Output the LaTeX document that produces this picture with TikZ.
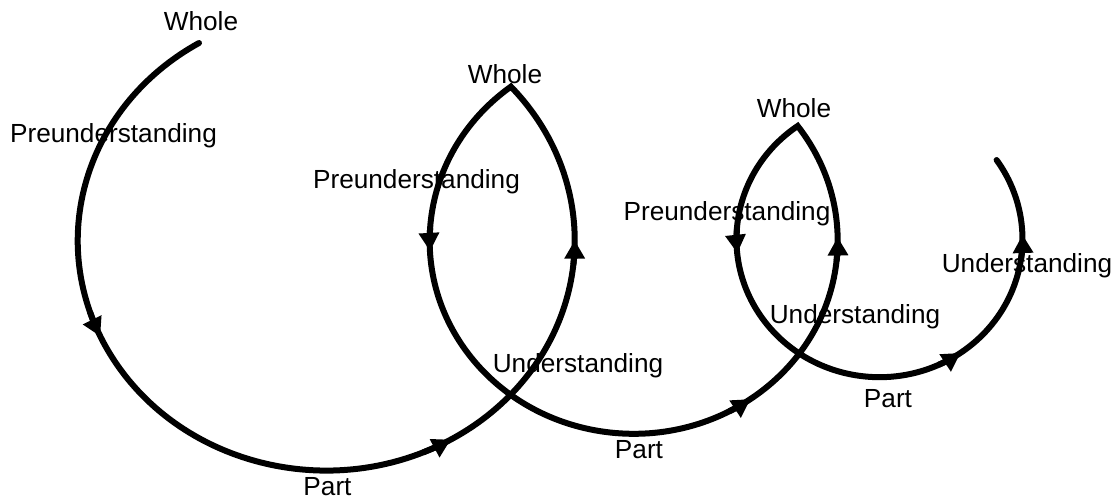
\documentclass[tikz,border=0pt]{standalone}
\usepackage{fontspec}
\setmainfont{Liberation Sans}
\usetikzlibrary{arrows.meta}
\begin{document}
\begin{tikzpicture}[x=1pt,y=-1pt,
  lbl/.style={font=\fontsize{26.2}{31}\selectfont, anchor=base, inner sep=0pt},
  spiral/.style={line width=6pt, line cap=round, line join=miter},
  tipseg/.style={line width=6pt, -{Triangle[length=18pt,width=21pt,line width=0pt]}}]
\useasboundingbox (0,0) rectangle (1120,501);
% centres of the three loops
\coordinate (c1) at (326.2,240.6);
\coordinate (c2) at (633.7,240.8);
\coordinate (c3) at (879.6,239.1);
\coordinate (s) at (199,43);
% labels
\node[lbl] (whole1) at (201,30) {Whole};
\node[lbl] (pre1) at (113.5,142) {Preunderstanding};
\node[lbl] (part1) at (327.5,495) {Part};
\node[lbl] (und1) at (578,372) {Understanding};
\node[lbl] (whole2) at (505,83) {Whole};
\node[lbl] (pre2) at (416.5,188) {Preunderstanding};
\node[lbl] (part2) at (639,458) {Part};
\node[lbl] (und2) at (855,323) {Understanding};
\node[lbl] (whole3) at (794,117) {Whole};
\node[lbl] (pre3) at (727,220) {Preunderstanding};
\node[lbl] (part3) at (888,407) {Part};
\node[lbl] (und3) at (1027,272) {Understanding};
% the spiral
\draw[spiral] (s)
  arc[start angle=239.2, end angle=-42, x radius=248.5, y radius=230]
  arc[start angle=233, end angle=-36.5, x radius=204, y radius=193]
  arc[start angle=235.1, end angle=-35, x radius=143, y radius=138];
% arrowheads, loop 1
\draw[tipseg] (c1) ++(162:248.5 and 230) arc[start angle=162, end angle=155.5, x radius=248.5, y radius=230];
\draw[tipseg] (c1) ++(67:248.5 and 230) arc[start angle=67, end angle=60, x radius=248.5, y radius=230];
\draw[tipseg] (c1) ++(6:248.5 and 230) arc[start angle=6, end angle=0, x radius=248.5, y radius=230];
% arrowheads, loop 2
\draw[tipseg] (c2) ++(184:204 and 193) arc[start angle=184, end angle=177, x radius=204, y radius=193];
\draw[tipseg] (c2) ++(62:204 and 193) arc[start angle=62, end angle=55.2, x radius=204, y radius=193];
\draw[tipseg] (c2) ++(6:204 and 193) arc[start angle=6, end angle=-1, x radius=204, y radius=193];
% arrowheads, loop 3
\draw[tipseg] (c3) ++(184.3:143 and 138) arc[start angle=184.3, end angle=174.3, x radius=143, y radius=138];
\draw[tipseg] (c3) ++(65.7:143 and 138) arc[start angle=65.7, end angle=55.7, x radius=143, y radius=138];
\draw[tipseg] (c3) ++(8.3:143 and 138) arc[start angle=8.3, end angle=-1.7, x radius=143, y radius=138];
\end{tikzpicture}
\end{document}
